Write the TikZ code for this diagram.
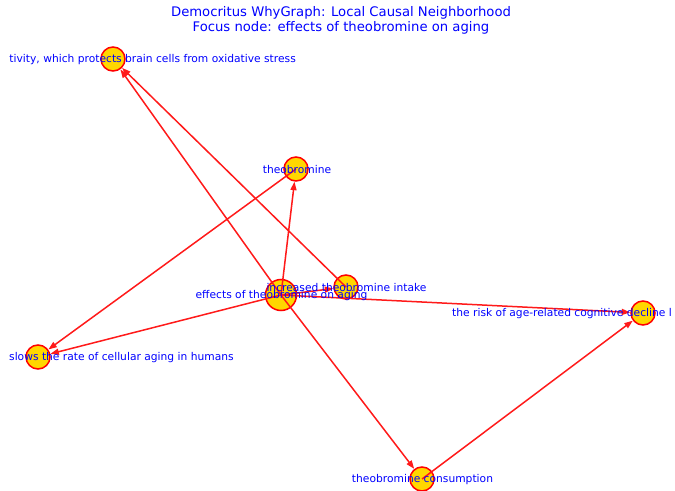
\documentclass[tikz,border=0pt]{standalone}
\usepackage{fontspec}
\setmainfont{DejaVu Sans}
\usetikzlibrary{arrows.meta}
\definecolor{nodegold}{HTML}{FFD700}
\definecolor{edgered}{HTML}{FF1A1A}
\definecolor{labelblue}{HTML}{0000FF}
\tikzset{
  vert/.style={circle, draw=red, line width=1.5bp, fill=nodegold, minimum size=24bp, inner sep=0pt},
  focus/.style={vert, minimum size=31bp},
  edge/.style={draw=edgered, line width=1.5bp, -{Triangle[length=8.5bp,width=6bp]}},
  lbl/.style={text=labelblue, inner sep=0pt, font=\fontsize{10.7bp}{12bp}\selectfont},
  ttl/.style={text=labelblue, inner sep=0pt, font=\fontsize{13.2bp}{15bp}\selectfont}
}
\begin{document}
\begin{tikzpicture}[x=1bp, y=-1bp]
\useasboundingbox[fill=white] (0,0) rectangle (675,491);
\node[ttl] (t1) at (341,12.5) {Democritus WhyGraph: Local Causal Neighborhood};
\node[ttl] (t2) at (341,27.5) {Focus node: effects of theobromine on aging};
% nodes
\node[vert] (A) at (113,59) {};
\node[vert] (T) at (296,169) {};
\node[focus] (F) at (281,295) {};
\node[vert] (I) at (346,287) {};
\node[vert] (R) at (643,313) {};
\node[vert] (S) at (38,357) {};
\node[vert] (C) at (422,479) {};
% edges
\draw[edge] (F.center) -- (T);
\draw[edge] (F.center) -- (A);
\draw[edge] (I.center) -- (A);
\draw[edge] (T.center) -- (S);
\draw[edge] (F.center) -- (S);
\draw[edge] (F.center) -- (I);
\draw[edge] (F.center) -- (R);
\draw[edge] (F.center) -- (C);
\draw[edge] (C.center) -- (R);
% labels
\node[lbl, anchor=east] (Al) at (296,60) {tivity, which protects brain cells from oxidative stress};
\node[lbl] (Tl) at (297,169.5) {theobromine};
\node[lbl] (Fl) at (281.5,296) {effects of theobromine on aging};
\node[lbl] (Il) at (346.5,288) {increased theobromine intake};
\node[lbl, anchor=west] (Rl) at (452,314) {the risk of age-related cognitive decline l};
\node[lbl, anchor=west] (Sl) at (9,358) {slows the rate of cellular aging in humans};
\node[lbl] (Cl) at (422.5,480) {theobromine consumption};
\end{tikzpicture}
\end{document}
